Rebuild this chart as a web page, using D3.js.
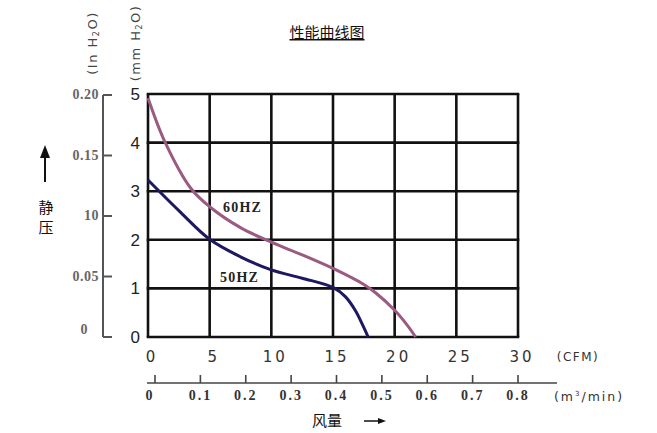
<!DOCTYPE html>
<html><head><meta charset="utf-8">
<script src="https://cdn.jsdelivr.net/npm/d3@7/dist/d3.min.js"></script>
<style>body{margin:0;background:#fff}svg{display:block}</style>
</head><body>
<svg id="c" width="657" height="433"></svg>
<script>
const cfmTicks = [0,5,10,15,20,25,30];
const mmTicks = [0,1,2,3,4,5];
const inTicks = [0,0.05,0.10,0.15,0.20];
const inLabels = ["0","0.05","10","0.15","0.20"];
const m3Ticks = [0,0.1,0.2,0.3,0.4,0.5,0.6,0.7,0.8];
const m3Labels = ["0","0.1","0.2","0.3","0.4","0.5","0.6","0.7","0.8"];
const hz60 = [[0,4.92],[1.4,4.0],[3.5,3.05],[5,2.68],[7.5,2.25],[10,1.95],[12.5,1.69],[15,1.41],[17.5,1.08],[18.5,0.9],[20,0.55],[21,0.25],[21.7,0]];
const hz50 = [[0,3.23],[2.5,2.6],[5,2.01],[7.5,1.65],[10,1.38],[12.5,1.21],[15,1.02],[16,0.83],[16.8,0.55],[17.4,0.25],[17.85,0]];

const svg = d3.select("#c");
const x = d3.scaleLinear([0,30],[148,518]);
const y = d3.scaleLinear([0,5],[337,94]);
const yIn = d3.scaleLinear([0,0.20],[337,95]);
const xm = d3.scaleLinear([0,0.8],[155,518]);

// title
svg.append("text").attr("x",327).attr("y",38).attr("text-anchor","middle")
  .attr("font-family","Noto Sans CJK SC").attr("font-size",15).attr("fill","#111")
  .attr("text-decoration","underline").text("性能曲线图");

// grid
const g = svg.append("g").attr("stroke","#111").attr("stroke-width",2.6).attr("fill","none");
g.selectAll("line.v").data(cfmTicks).join("line").attr("x1",d=>x(d)).attr("x2",d=>x(d)).attr("y1",y(5)).attr("y2",y(0));
g.selectAll("line.h").data(mmTicks).join("line").attr("class","h").attr("x1",x(0)-1.3).attr("x2",x(30)+1.3).attr("y1",d=>y(d)).attr("y2",d=>y(d));

// inner y labels
svg.selectAll("text.mm").data(mmTicks).join("text").attr("class","mm")
  .attr("x",140).attr("y",d=>y(d)+6).attr("text-anchor","end")
  .attr("font-family","Liberation Sans, Arial").attr("font-size",17).attr("fill","#222")
  .text(d=>d);

// outer y axis
const og = svg.append("g").attr("stroke","#555").attr("stroke-width",2);
og.append("line").attr("x1",103).attr("x2",103).attr("y1",yIn(0.20)).attr("y2",yIn(0));
og.selectAll("line.t").data(inTicks).join("line").attr("class","t").attr("x1",103).attr("x2",112).attr("y1",d=>yIn(d)).attr("y2",d=>yIn(d));
svg.selectAll("text.in").data(inTicks).join("text").attr("class","in")
  .attr("x",(d,i)=> i===0 ? 88 : 99).attr("y",(d,i)=>yIn(d)+(i===0?-3:4)).attr("text-anchor","end")
  .attr("font-family","Liberation Serif, Times New Roman").attr("font-weight","bold").attr("font-size",14).attr("fill","#666").attr("letter-spacing",0.5)
  .text((d,i)=>inLabels[i]);

// rotated unit labels
function rot(cx, cy){
  return svg.append("text").attr("transform",`translate(${cx},${cy}) rotate(-90)`).attr("text-anchor","middle")
    .attr("font-family","DejaVu Sans").attr("font-size",13).attr("fill","#444").attr("letter-spacing",1.5);
}
let t1 = rot(97,43);
t1.append("tspan").text("(In H");
t1.append("tspan").attr("font-size",8).attr("dy",2).text("2");
t1.append("tspan").attr("dy",-2).text("O)");
let t2 = rot(140,43);
t2.append("tspan").text("(mm H");
t2.append("tspan").attr("font-size",8).attr("dy",2).text("2");
t2.append("tspan").attr("dy",-2).text("O)");

// up arrow + 静压
svg.append("line").attr("x1",45).attr("x2",45).attr("y1",182).attr("y2",155).attr("stroke","#111").attr("stroke-width",2);
svg.append("path").attr("d","M45,145 L40,158 L50,158 Z").attr("fill","#111");
svg.append("text").attr("x",46).attr("y",213).attr("text-anchor","middle").attr("font-family","Noto Sans CJK SC").attr("font-size",15).attr("fill","#111").text("静");
svg.append("text").attr("x",46).attr("y",233).attr("text-anchor","middle").attr("font-family","Noto Sans CJK SC").attr("font-size",15).attr("fill","#111").text("压");

// curves
const line = d3.line().x(d=>x(d[0])).y(d=>y(d[1])).curve(d3.curveCatmullRom.alpha(0.5));
svg.append("path").attr("d",line(hz60)).attr("fill","none").attr("stroke","#9a5a82").attr("stroke-width",3);
svg.append("path").attr("d",line(hz50)).attr("fill","none").attr("stroke","#1e1860").attr("stroke-width",3);
svg.append("text").attr("x",223).attr("y",212).attr("font-family","Liberation Serif").attr("font-weight","bold").attr("font-size",14).attr("fill","#222").attr("letter-spacing",1.2).text("60HZ");
svg.append("text").attr("x",220).attr("y",282).attr("font-family","Liberation Serif").attr("font-weight","bold").attr("font-size",14).attr("fill","#222").attr("letter-spacing",1.2).text("50HZ");

// CFM labels
svg.selectAll("text.cfm").data(cfmTicks).join("text").attr("class","cfm")
  .attr("x",d=>x(d)+4).attr("y",362).attr("text-anchor","middle")
  .attr("font-family","DejaVu Sans").attr("font-size",15).attr("fill","#333").attr("letter-spacing",3)
  .text(d=>d);
svg.append("text").attr("x",578).attr("y",361).attr("text-anchor","middle")
  .attr("font-family","DejaVu Sans").attr("font-size",12).attr("fill","#333").attr("letter-spacing",1.5).text("(CFM)");

// m3/min axis
const mg = svg.append("g").attr("stroke","#444").attr("stroke-width",1.6);
mg.append("line").attr("x1",147).attr("x2",557).attr("y1",383).attr("y2",383);
mg.selectAll("line.t").data(m3Ticks).join("line").attr("class","t").attr("x1",d=>xm(d)).attr("x2",d=>xm(d)).attr("y1",375).attr("y2",383);
svg.selectAll("text.m3").data(m3Ticks).join("text").attr("class","m3")
  .attr("x",(d,i)=> i===0 ? 150 : xm(d)).attr("y",400).attr("text-anchor","middle")
  .attr("font-family","Liberation Serif").attr("font-weight","bold").attr("font-size",14).attr("fill","#333").attr("letter-spacing",2)
  .text((d,i)=>m3Labels[i]);
let mt = svg.append("text").attr("x",589).attr("y",401).attr("text-anchor","middle")
  .attr("font-family","DejaVu Sans").attr("font-size",12.5).attr("fill","#333").attr("letter-spacing",2);
mt.append("tspan").text("(m");
mt.append("tspan").attr("font-size",7).attr("dy",-5).text("3");
mt.append("tspan").attr("dy",5).text("/min)");

// 风量 →
svg.append("text").attr("x",327).attr("y",426).attr("text-anchor","middle").attr("font-family","Noto Sans CJK SC").attr("font-size",15).attr("fill","#111").text("风量");
svg.append("line").attr("x1",364).attr("x2",380).attr("y1",421).attr("y2",421).attr("stroke","#111").attr("stroke-width",1.5);
svg.append("path").attr("d","M386,421 L378,418 L378,424 Z").attr("fill","#111");
</script>
</body></html>
